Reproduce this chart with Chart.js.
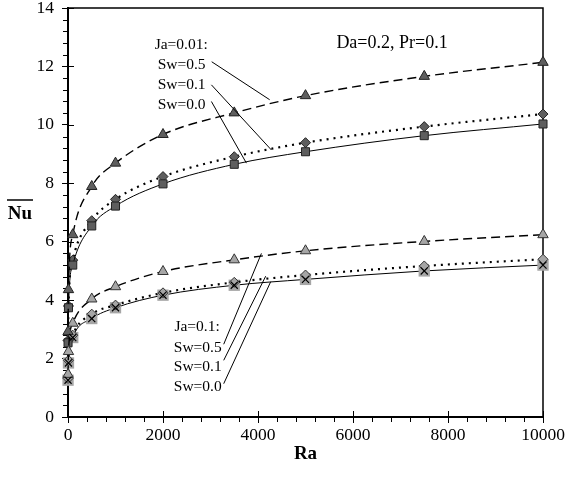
<!DOCTYPE html>
<html>
<head>
<meta charset="utf-8">
<script src="https://cdn.jsdelivr.net/npm/chart.js@4"></script>
<style>
  html, body { margin: 0; padding: 0; background: #fff; }
  #wrap { width: 572px; height: 482px; }
</style>
</head>
<body>
<div id="wrap"><canvas id="nuChart" width="572" height="482"></canvas></div>
<script>
// Ra values (x) and mean Nusselt numbers
const ra = [1, 10, 100, 500, 1000, 2000, 3500, 5000, 7500, 10000];
const nuJa001Sw05 = [2.92, 4.36, 6.24, 7.89, 8.69, 9.67, 10.41, 11.0, 11.66, 12.14];
const nuJa001Sw01 = [2.62, 3.8, 5.37, 6.72, 7.45, 8.23, 8.91, 9.39, 9.94, 10.37];
const nuJa001Sw00 = [2.54, 3.74, 5.2, 6.54, 7.22, 7.98, 8.65, 9.08, 9.63, 10.03];
const nuJa01Sw05 = [1.46, 2.24, 3.21, 4.04, 4.46, 4.98, 5.38, 5.69, 6.01, 6.24];
const nuJa01Sw01 = [1.32, 1.94, 2.8, 3.52, 3.83, 4.25, 4.61, 4.86, 5.17, 5.4];
const nuJa01Sw00 = [1.26, 1.85, 2.72, 3.37, 3.74, 4.17, 4.51, 4.71, 5.0, 5.2];

const serif = "'Liberation Serif', 'Times New Roman', serif";
const dark = '#5e5e5e';
const light = '#a6a6a6';

function pts(ys) {
    return ra.map((x, i) => ({ x: x, y: ys[i] }));
}

// labels and leader lines, in data units
const notes = [
    { text: 'Da=0.2, Pr=0.1', x: 5650, y: 12.8, align: 'left', size: 18 },
    { text: 'Ja=0.01:', x: 1825, y: 12.74, align: 'left', size: 15.5 },
    { text: 'Sw=0.5', x: 1888, y: 12.06, align: 'left', size: 15.5 },
    { text: 'Sw=0.1', x: 1888, y: 11.37, align: 'left', size: 15.5 },
    { text: 'Sw=0.0', x: 1888, y: 10.69, align: 'left', size: 15.5 },
    { text: 'Ja=0.1:', x: 3194, y: 3.08, align: 'right', size: 15.5 },
    { text: 'Sw=0.5', x: 3236, y: 2.38, align: 'right', size: 15.5 },
    { text: 'Sw=0.1', x: 3236, y: 1.71, align: 'right', size: 15.5 },
    { text: 'Sw=0.0', x: 3236, y: 1.03, align: 'right', size: 15.5 }
];
const leaders = [
    [3025, 12.16, 4246, 10.86],
    [3019, 11.37, 4282, 9.14],
    [3019, 10.8, 3756, 8.69],
    [3278, 2.49, 4072, 5.6],
    [3278, 1.94, 4162, 4.82],
    [3278, 1.14, 4267, 4.63]
];

const framePlugin = {
    id: 'frame',
    beforeDatasetsDraw(chart) {
        const { ctx, chartArea: a, scales: { x, y } } = chart;
        ctx.save();
        ctx.strokeStyle = '#000';
        ctx.lineWidth = 1.5;
        ctx.beginPath();
        ctx.moveTo(a.left, a.top);
        ctx.lineTo(a.right, a.top);
        ctx.lineTo(a.right, a.bottom);
        ctx.stroke();
        ctx.lineWidth = 1;
        ctx.beginPath();
        // minor ticks outside, major ticks also reach inside
        for (let k = 1; k <= 25; k++) {
            const px = Math.round(x.getPixelForValue(k * 400)) + 0.5;
            if (k % 5 === 0) {
                ctx.moveTo(px, a.bottom);
                ctx.lineTo(px, a.bottom - 6);
            } else {
                ctx.moveTo(px, a.bottom);
                ctx.lineTo(px, a.bottom + 5);
            }
        }
        for (let k = 1; k <= 35; k++) {
            const py = Math.round(y.getPixelForValue(k * 0.4)) + 0.5;
            if (k % 5 === 0) {
                ctx.moveTo(a.left, py);
                ctx.lineTo(a.left + 6, py);
            } else {
                ctx.moveTo(a.left, py);
                ctx.lineTo(a.left - 5, py);
            }
        }
        ctx.stroke();
        ctx.restore();
    },
    afterDraw(chart) {
        const { ctx, scales: { x, y } } = chart;
        ctx.save();
        ctx.fillStyle = '#000';
        ctx.strokeStyle = '#000';
        ctx.textBaseline = 'middle';
        notes.forEach(n => {
            ctx.font = n.size + 'px ' + serif;
            ctx.textAlign = n.align;
            ctx.fillText(n.text, x.getPixelForValue(n.x), y.getPixelForValue(n.y));
        });
        ctx.lineWidth = 1;
        ctx.beginPath();
        leaders.forEach(l => {
            ctx.moveTo(x.getPixelForValue(l[0]), y.getPixelForValue(l[1]));
            ctx.lineTo(x.getPixelForValue(l[2]), y.getPixelForValue(l[3]));
        });
        ctx.stroke();
        // y axis title: Nu with overbar
        ctx.font = 'bold 19px ' + serif;
        ctx.textAlign = 'center';
        ctx.fillText('Nu', 20, 214);
        ctx.lineWidth = 1.5;
        ctx.beginPath();
        ctx.moveTo(7, 200);
        ctx.lineTo(33, 200);
        ctx.stroke();
        ctx.restore();
    }
};

new Chart(document.getElementById('nuChart'), {
    type: 'scatter',
    data: {
        datasets: [
            {
                data: pts(nuJa001Sw05), showLine: true, order: 1,
                borderColor: '#000', borderWidth: 1.4, borderDash: [9, 5],
                pointStyle: 'triangle', pointRadius: 6, pointBackgroundColor: dark, pointBorderColor: '#222', pointBorderWidth: 1
            },
            {
                data: pts(nuJa001Sw01), showLine: true, order: 3,
                borderColor: '#000', borderWidth: 2.2, borderDash: [2, 5],
                pointStyle: 'rectRot', pointRadius: 5, pointBackgroundColor: dark, pointBorderColor: '#222', pointBorderWidth: 1
            },
            {
                data: pts(nuJa001Sw00), showLine: true, order: 2,
                borderColor: '#000', borderWidth: 1,
                pointStyle: 'rect', pointRadius: 5.7, pointBackgroundColor: dark, pointBorderColor: '#222', pointBorderWidth: 1
            },
            {
                data: pts(nuJa01Sw05), showLine: true, order: 1,
                borderColor: '#000', borderWidth: 1.4, borderDash: [9, 5],
                pointStyle: 'triangle', pointRadius: 6, pointBackgroundColor: light, pointBorderColor: '#333', pointBorderWidth: 1
            },
            {
                data: pts(nuJa01Sw01), showLine: true, order: 2,
                borderColor: '#000', borderWidth: 2.2, borderDash: [2, 5],
                pointStyle: 'rectRot', pointRadius: 5, pointBackgroundColor: light, pointBorderColor: '#333', pointBorderWidth: 1
            },
            {
                data: pts(nuJa01Sw00), showLine: true, order: 4,
                borderColor: '#000', borderWidth: 1,
                pointStyle: 'rect', pointRadius: 8, pointBackgroundColor: light, pointBorderWidth: 0
            },
            {
                data: pts(nuJa01Sw00), showLine: false, order: 0,
                pointStyle: 'crossRot', pointRadius: 5, pointBorderColor: '#000', pointBorderWidth: 1.2
            }
        ].map(d => Object.assign({ cubicInterpolationMode: 'monotone', clip: false, pointHoverRadius: d.pointRadius }, d))
    },
    options: {
        responsive: false,
        animation: false,
        events: [],
        layout: { padding: { top: 8, right: 29, bottom: 0, left: 0 } },
        plugins: { legend: { display: false }, tooltip: { enabled: false } },
        scales: {
            x: {
                type: 'linear', min: 0, max: 10000,
                afterFit: s => { s.height = 65; s.paddingLeft = 0; s.paddingRight = 0; },
                ticks: {
                    stepSize: 2000, maxRotation: 0, padding: 2,
                    color: '#000', font: { family: serif, size: 17.5 },
                    callback: v => String(v)
                },
                grid: { drawOnChartArea: false, drawTicks: true, tickLength: 6, color: '#000' },
                border: { color: '#000', width: 2 },
                title: { display: true, text: 'Ra', color: '#000', font: { family: serif, size: 19, weight: 'bold' }, padding: { top: 0, bottom: 17 } }
            },
            y: {
                min: 0, max: 14,
                afterFit: s => { s.width = 68; s.paddingTop = 0; s.paddingBottom = 0; },
                ticks: {
                    stepSize: 2, padding: 8,
                    color: '#000', font: { family: serif, size: 17.5 }
                },
                grid: { drawOnChartArea: false, drawTicks: true, tickLength: 6, color: '#000' },
                border: { color: '#000', width: 2 }
            }
        }
    },
    plugins: [framePlugin]
});
</script>
</body>
</html>
